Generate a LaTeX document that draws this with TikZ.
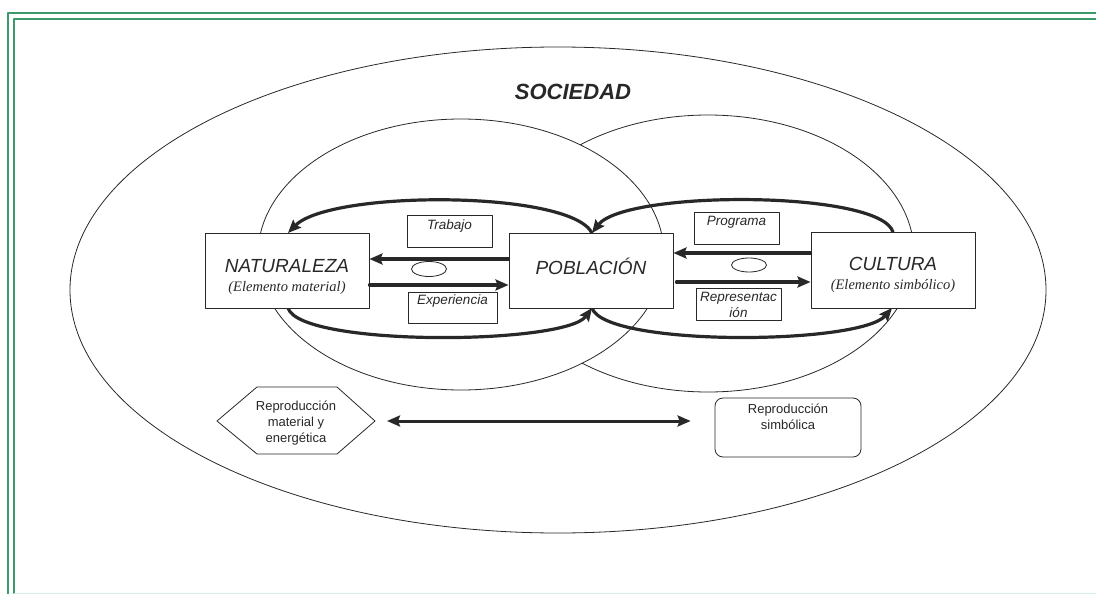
\documentclass[tikz,border=0pt]{standalone}
\usepackage{fontspec}
\newfontfamily\arial{Liberation Sans}
\newfontfamily\serifita{Liberation Serif}
\usetikzlibrary{arrows.meta,shapes.geometric,positioning}
\definecolor{verde}{RGB}{58,154,106}
\definecolor{verdeclaro}{RGB}{214,236,230}
\definecolor{tinta}{RGB}{40,40,40}
\tikzset{
	caja/.style={draw=tinta,line width=0.9pt,fill=white,minimum width=164,minimum height=75,inner sep=0pt},
	etiq/.style={draw=tinta,line width=0.8pt,fill=white,minimum width=85,minimum height=32,inner sep=0pt},
	titulo/.style={text=tinta,font=\arial\itshape\fontsize{19}{21}\selectfont},
	subtit/.style={text=tinta,font=\serifita\itshape\fontsize{14.5}{16}\selectfont},
	chico/.style={text=tinta,font=\arial\itshape\fontsize{13.5}{16}\selectfont,inner sep=1pt},
	recto/.style={text=tinta,font=\arial\fontsize{13}{16}\selectfont,align=center,inner sep=1pt},
	ovalo/.style={draw=tinta,ellipse,line width=0.8pt,minimum width=35,minimum height=15,inner sep=0pt},
	flecha/.style={draw=tinta,line width=3.2pt,-{Stealth[length=13pt,width=11pt,inset=2pt]}},
	linea/.style={draw=tinta,line width=0.8pt}
}
\begin{document}
\begin{tikzpicture}[x=1pt,y=-1pt,line cap=round,line join=round]
	\useasboundingbox (0,0) rectangle (1096,594);
	% marco verde
	\draw[verde,line width=1.6pt] (1096,13) -- (8,13) -- (8,594);
	\draw[verde,line width=1.6pt] (1096,19) -- (14,19) -- (14,594);
	\draw[verdeclaro,line width=1pt] (14,593) -- (1096,593);
	% elipses
	\draw[linea] (558,290) ellipse [x radius=488,y radius=243]; %sociedad
	\draw[linea,fill=white] (708,253.5) ellipse [x radius=206,y radius=138.5]; %derecha
	\draw[linea,fill=white] (461,254.5) ellipse [x radius=203,y radius=135.5]; %izquierda
	\node[text=tinta,font=\arial\bfseries\itshape\fontsize{22}{24}\selectfont] (soc) at (573,92) {SOCIEDAD};
	% flechas curvas
	\draw[flecha] (592,233) .. controls (570,190) and (330,190) .. (288,233);
	\draw[flecha] (893,232) .. controls (880,190) and (625,190) .. (592,233);
	\draw[flecha] (288,308) .. controls (300,347) and (565,345) .. (592,308);
	\draw[flecha] (592,308) .. controls (605,347) and (860,345) .. (892,308);
	% cajas
	\node[caja] (nat) at (287,270.5) {};
	\node[caja] (pob) at (591,270.5) {};
	\node[caja,minimum height=76] (cul) at (893,270) {};
	\node[titulo] (nat-t) at (287,266) {NATURALEZA};
	\node[subtit] (nat-s) at (287,288) {(Elemento material)};
	\node[titulo] (pob-t) at (591,266) {POBLACIÓN};
	\node[titulo] (cul-t) at (893,264) {CULTURA};
	\node[subtit] (cul-s) at (893,286) {(Elemento simbólico)};
	% flechas rectas
	\draw[flecha] (pob.west |- 0,259) -- (nat.east |- 0,259);
	\draw[flecha] (nat.east |- 0,285) -- (pob.west |- 0,285);
	\draw[flecha] (cul.west |- 0,253) -- (pob.east |- 0,253);
	\draw[flecha] ([xshift=3]pob.east |- 0,282) -- (cul.west |- 0,282);
	% etiquetas
	\node[etiq] (trab) at (449.5,231) {};
	\node[chico,below=4pt of trab.north] (trab-t) {Trabajo};
	\node[etiq,minimum width=89,minimum height=31] (exp) at (452.5,307.5) {};
	\node[chico,below=2pt of exp.north] (exp-t) {Experiencia};
	\node[etiq] (prog) at (736.5,228) {};
	\node[chico,below=3pt of prog.north] (prog-t) {Programa};
	\node[etiq] (rep) at (738.5,304) {};
	\node[chico,align=center,below=3pt of rep.north] (rep-t) {Representac\\ión};
	\node[ovalo] (ov1) at (429,269) {};
	\node[ovalo,minimum height=14] (ov2) at (749,265) {};
	% reproduccion
	\draw[linea,fill=white] (217,421) -- (257,387) -- (337,387) -- (375,421) -- (337,454) -- (257,454) -- cycle;
	\coordinate (hexa) at (375,421);
	\node[recto] (hex-t) at (296,423) {Reproducción\\material y\\energética};
	\node[linea,fill=white,rounded corners=8pt,minimum width=146,minimum height=59,inner sep=0pt] (simb) at (788,427.5) {};
	\node[recto,below=5pt of simb.north] (simb-t) {Reproducción\\simbólica};
	\draw[draw=tinta,line width=3pt,{Stealth[length=13pt,width=11pt,inset=2pt]}-{Stealth[length=13pt,width=11pt,inset=2pt]}] ([xshift=12]hexa) -- ([xshift=-24]simb.west |- hexa);
\end{tikzpicture}
\end{document}
